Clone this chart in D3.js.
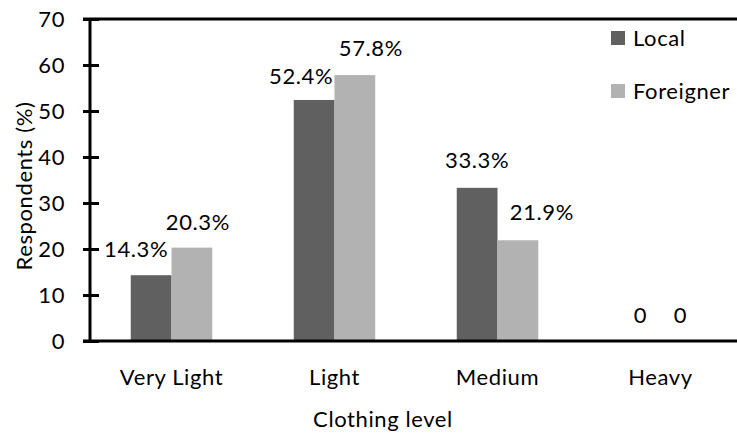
<!DOCTYPE html>
<html>
<head>
<meta charset="utf-8">
<script src="https://cdn.jsdelivr.net/npm/d3@7"></script>
<style>
  html, body { margin: 0; padding: 0; background: #fff; }
  svg { display: block; }
  text { font-family: Lato, "Open Sans", sans-serif; fill: #000; letter-spacing: 0.6px; }
</style>
</head>
<body>
<svg id="chart" width="737" height="437"></svg>
<script>
// Clothing level survey: share of respondents per group
const categories = ["Very Light", "Light", "Medium", "Heavy"];
const localValues = [14.3, 52.4, 33.3, 0];
const foreignerValues = [20.3, 57.8, 21.9, 0];
const localLabels = ["14.3%", "52.4%", "33.3%", "0"];
const foreignerLabels = ["20.3%", "57.8%", "21.9%", "0"];
const yTicks = [0, 10, 20, 30, 40, 50, 60, 70];
const seriesNames = ["Local", "Foreigner"];

const colors = { Local: "#606060", Foreigner: "#b2b2b2" };
const fontSize = 22;

const svg = d3.select("#chart");
const W = 737, H = 437;
const plotLeft = 90, plotTop = 19, plotBottom = 341, plotRight = 742;

const x = d3.scaleBand().domain(categories).range([plotLeft, plotRight])
  .paddingInner(0.5).paddingOuter(0.25);
const sub = d3.scaleBand().domain(seriesNames).range([0, x.bandwidth()]);
const y = d3.scaleLinear().domain([0, 70]).range([plotBottom, plotTop]);

// bars
const series = [
  { name: "Local", values: localValues, labels: localLabels },
  { name: "Foreigner", values: foreignerValues, labels: foreignerLabels }
];
series.forEach(s => {
  svg.append("g").selectAll("rect")
    .data(categories.map((c, i) => ({ c, v: s.values[i] })))
    .join("rect")
    .attr("x", d => x(d.c) + sub(s.name))
    .attr("y", d => y(d.v))
    .attr("width", sub.bandwidth())
    .attr("height", d => y(0) - y(d.v))
    .attr("fill", colors[s.name]);
});

// value labels (placed beside the bar tops)
const labelShift = {
  Local: [-15, -13, 0, -20],
  Foreigner: [6, 16, 24, 20]
};
const labelLift = {
  Local: [18, 16, 20, 0],
  Foreigner: [18, 19, 20, 0]
};
series.forEach(s => {
  svg.append("g").selectAll("text")
    .data(categories.map((c, i) => ({ c, i, v: s.values[i], t: s.labels[i] })))
    .join("text")
    .attr("x", d => d.v === 0
      ? x(d.c) + x.bandwidth() / 2 + labelShift[s.name][d.i]
      : x(d.c) + sub(s.name) + sub.bandwidth() / 2 + labelShift[s.name][d.i])
    .attr("y", d => d.v === 0 ? y(0) - 18 : y(d.v) - labelLift[s.name][d.i])
    .attr("text-anchor", "middle")
    .attr("font-size", fontSize)
    .text(d => d.t);
});

// y axis with ticks crossing the line
const yAxis = svg.append("g").attr("transform", `translate(${plotLeft},0)`)
  .call(d3.axisLeft(y).tickValues(yTicks).tickSize(0).tickPadding(25));
yAxis.select(".domain").remove();
yAxis.selectAll(".tick text").attr("font-size", fontSize)
  .attr("font-family", "Lato, sans-serif").attr("fill", "#000");
yAxis.selectAll(".tick").append("line")
  .attr("x1", -7).attr("x2", 9).attr("stroke", "#000").attr("stroke-width", 3);

svg.append("line").attr("x1", plotLeft).attr("x2", plotLeft).attr("y1", plotTop).attr("y2", plotBottom)
  .attr("stroke", "#000").attr("stroke-width", 3);
svg.append("line").attr("x1", plotLeft - 7).attr("x2", W).attr("y1", plotTop).attr("y2", plotTop)
  .attr("stroke", "#000").attr("stroke-width", 3);
svg.append("line").attr("x1", plotLeft - 7).attr("x2", W).attr("y1", plotBottom).attr("y2", plotBottom)
  .attr("stroke", "#000").attr("stroke-width", 3);

// category labels
svg.append("g").selectAll("text")
  .data(categories)
  .join("text")
  .attr("x", d => x(d) + x.bandwidth() / 2)
  .attr("y", 385)
  .attr("text-anchor", "middle")
  .attr("font-size", fontSize)
  .text(d => d);

// axis titles
svg.append("text").attr("x", 383).attr("y", 427).attr("text-anchor", "middle")
  .attr("font-size", fontSize).text("Clothing level");
svg.append("text").attr("transform", "translate(32,186) rotate(-90)")
  .attr("text-anchor", "middle").attr("font-size", fontSize).text("Respondents (%)");

// legend
const legend = svg.append("g").attr("transform", "translate(611,31)");
seriesNames.forEach((n, i) => {
  const g = legend.append("g").attr("transform", `translate(0,${i * 53})`);
  g.append("rect").attr("width", 14).attr("height", 14).attr("fill", colors[n]);
  g.append("text").attr("x", 22).attr("y", 15).attr("font-size", fontSize).text(n);
});
</script>
</body>
</html>
